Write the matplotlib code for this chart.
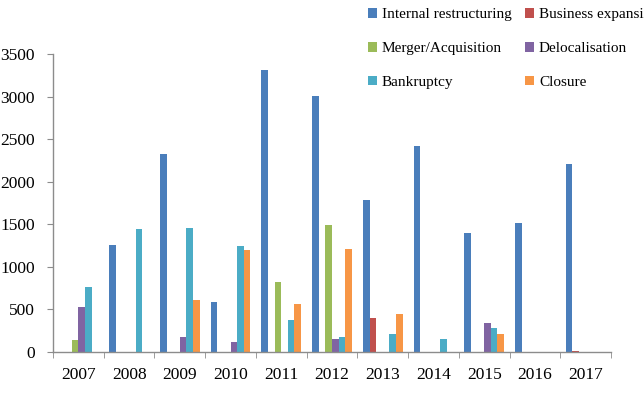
import matplotlib
matplotlib.use("Agg")
import matplotlib.pyplot as plt
import numpy as np
from matplotlib.patches import Patch

years = ["2007", "2008", "2009", "2010", "2011", "2012", "2013", "2014", "2015", "2016", "2017"]
series_names = ["Internal restructuring", "Business expansion", "Merger/Acquisition",
                "Delocalisation", "Bankruptcy", "Closure"]
internal_restructuring = [0, 1262, 2325, 587, 3314, 3005, 1784, 2414, 1400, 1514, 2207]
business_expansion = [0, 0, 0, 0, 0, 0, 399, 0, 0, 0, 15]
merger_acquisition = [137, 0, 0, 0, 826, 1487, 0, 0, 0, 0, 0]
delocalisation = [528, 0, 176, 117, 0, 149, 0, 0, 344, 0, 0]
bankruptcy = [764, 1450, 1462, 1240, 372, 176, 215, 156, 286, 0, 0]
closure = [0, 0, 607, 1193, 567, 1205, 450, 0, 207, 0, 0]
y_ticks = [0, 500, 1000, 1500, 2000, 2500, 3000, 3500]

series = [internal_restructuring, business_expansion, merger_acquisition,
          delocalisation, bankruptcy, closure]
colors = ["#4A7EBB", "#C0504D", "#9BBB59", "#8064A2", "#4BACC6", "#F79646"]

plt.rcParams['font.family'] = ['Liberation Serif', 'DejaVu Serif']

fig = plt.figure(figsize=(6.44, 3.94), dpi=100)
ax = fig.add_axes([53/644, 1 - 352/394, (611 - 53)/644, (352 - 54)/394])

x = np.arange(len(years))
w = 0.13
n = len(series)
for i, (vals, c) in enumerate(zip(series, colors)):
    offs = (i - (n - 1) / 2) * w
    ax.bar(x + offs, vals, width=w, color=c, linewidth=0)

ax.set_xlim(-0.5, len(years) - 0.5)
ax.set_ylim(0, 3500)
ax.set_yticks(y_ticks)
ax.set_yticklabels([str(t) for t in y_ticks], fontsize=12.5)
ax.set_xticks(x)
ax.set_xticklabels(years, fontsize=12.5)
ax.set_xticks(np.arange(-0.5, len(years)), minor=True)

gray = "#8C8C8C"
for s in ["top", "right"]:
    ax.spines[s].set_visible(False)
for s in ["left", "bottom"]:
    ax.spines[s].set_color(gray)
    ax.spines[s].set_linewidth(1.0)
ax.tick_params(axis='x', which='major', length=0, pad=11)
ax.tick_params(axis='x', which='minor', length=4, color=gray, direction='out')
ax.tick_params(axis='y', which='major', length=4, color=gray, direction='out', pad=9)

order = [0, 2, 4, 1, 3, 5]
handles = [Patch(facecolor=colors[i], edgecolor='none') for i in order]
labels = [series_names[i] for i in order]
fig.legend(handles, labels, loc='upper left', bbox_to_anchor=(368/644, 1 - 8/394),
           ncol=2, frameon=False, fontsize=11, handlelength=0.6, handleheight=0.6,
           handletextpad=0.3, columnspacing=0.9, labelspacing=1.35, borderpad=0,
           borderaxespad=0)

fig.savefig("out.png", dpi=100)
